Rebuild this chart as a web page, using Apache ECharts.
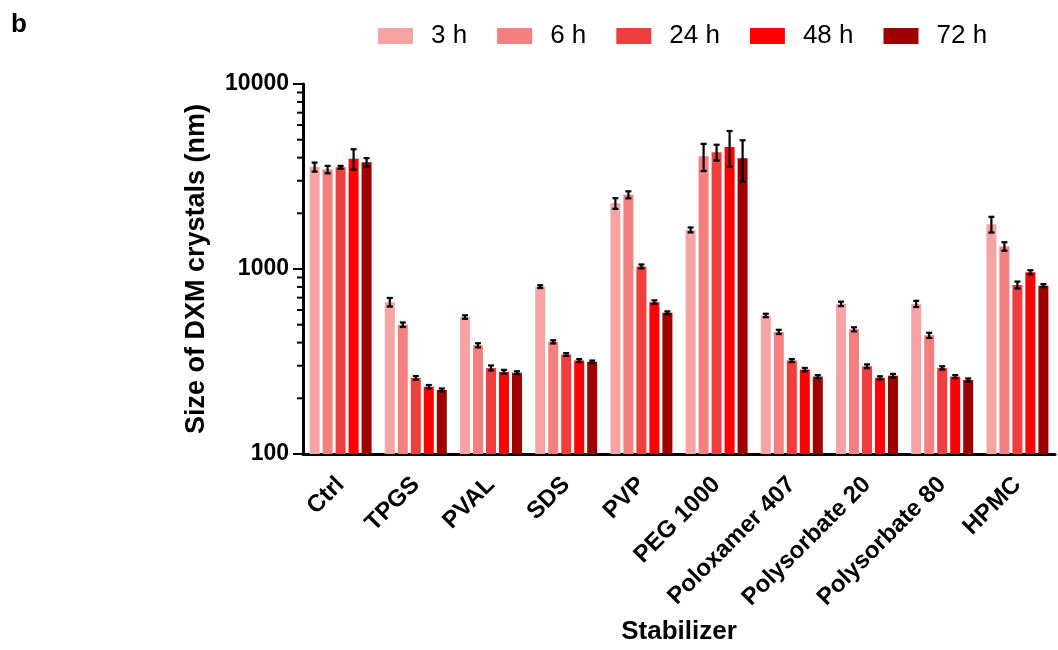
<!DOCTYPE html>
<html>
<head>
<meta charset="utf-8">
<script src="https://cdn.jsdelivr.net/npm/echarts@6/dist/echarts.min.js"></script>
<style>html,body{margin:0;padding:0;background:#fff;}#c{width:1058px;height:650px;}</style>
</head>
<body>
<div id="c"></div>
<script>
const categories = ['Ctrl','TPGS','PVAL','SDS','PVP','PEG 1000','Poloxamer 407','Polysorbate 20','Polysorbate 80','HPMC'];
const seriesNames = ['3 h','6 h','24 h','48 h','72 h'];
const colors = ['#F5A3A3','#F47F7F','#EF3E3E','#FE0000','#9E0000'];
const v3h  = [3560, 662, 550, 803, 2264, 1627, 561, 648, 648, 1745];
const v6h  = [3450, 500, 387, 404, 2520, 4066, 457, 472, 438, 1325];
const v24h = [3550, 258, 292, 345, 1033, 4277, 320, 298, 292, 820];
const v48h = [3940, 231, 278, 320, 662, 4570, 286, 258, 262, 960];
const v72h = [3775, 222, 275, 315, 580, 3965, 262, 265, 251, 813];
const e3h  = [200, 35, 12, 14, 150, 50, 12, 18, 25, 170];
const e6h  = [160, 14, 10, 8, 110, 680, 12, 12, 14, 70];
const e24h = [60, 6, 9, 6, 25, 420, 6, 7, 6, 35];
const e48h = [500, 5, 7, 6, 15, 1000, 6, 5, 5, 25];
const e72h = [200, 4, 5, 5, 10, 1000, 5, 6, 5, 15];
const yTickValues = [100, 1000, 10000];
const yTickLabels = ['100', '1000', '10000'];
const yMinorTicks = [200,300,400,500,600,700,800,900,2000,3000,4000,5000,6000,7000,8000,9000];

const values = [v3h, v6h, v24h, v48h, v72h];
const errors = [e3h, e6h, e24h, e48h, e72h];

const BAR_W = 10, BAR_GAP = 3;
const series = [];
values.forEach((vals, i) => {
  series.push({
    name: seriesNames[i], type: 'bar', data: vals,
    barWidth: BAR_W, barGap: '30%',
    itemStyle: { color: colors[i] }, z: 2
  });
});
values.forEach((vals, i) => {
  series.push({
    name: 'err' + i, type: 'custom', z: 5, silent: true,
    data: vals.map((v, k) => [k, v, errors[i][k]]),
    renderItem: function (params, api) {
      const k = api.value(0), v = api.value(1), e = api.value(2);
      const off = (i - 2) * (BAR_W + BAR_GAP);
      const top = api.coord([k, v + e]);
      const bot = api.coord([k, Math.max(v - e, 101)]);
      const x = top[0] + off;
      const cap = 3;
      const st = { stroke: '#000', lineWidth: 2.2 };
      return { type: 'group', children: [
        { type: 'line', shape: { x1: x, y1: top[1], x2: x, y2: bot[1] }, style: st },
        { type: 'line', shape: { x1: x - cap, y1: top[1], x2: x + cap, y2: top[1] }, style: st },
        { type: 'line', shape: { x1: x - cap, y1: bot[1], x2: x + cap, y2: bot[1] }, style: st }
      ]};
    }
  });
});
series.push({
  name: 'minor', type: 'custom', z: 6, silent: true, clip: false,
  data: yMinorTicks.map(v => [0, v]),
  renderItem: function (params, api) {
    const p = api.coord([0, api.value(1)]);
    const half = api.size([1, 0])[0] / 2;
    const x = p[0] - half;
    return { type: 'line', shape: { x1: x - 6, y1: p[1], x2: x, y2: p[1] }, style: { stroke: '#000', lineWidth: 2 } };
  }
});

const chart = echarts.init(document.getElementById('c'), null, { renderer: 'canvas' });
chart.setOption({
  animation: false,
  backgroundColor: '#fff',
  textStyle: { fontFamily: 'Liberation Sans, Arial, sans-serif' },
  title: { text: 'b', left: 6, top: 7, textStyle: { fontSize: 26, fontWeight: 'bold', color: '#000', fontFamily: 'Liberation Sans' } },
  legend: {
    data: seriesNames, left: 373, top: 18, icon: 'rect', itemWidth: 35, itemHeight: 16, itemGap: 30,
    textStyle: { fontSize: 26, color: '#000', fontFamily: 'Liberation Sans', padding: [0, 0, 0, 13] }
  },
  grid: { left: 303, right: 3, top: 84, bottom: 194, containLabel: false },
  xAxis: {
    type: 'category', data: categories,
    name: 'Stabilizer', nameLocation: 'middle', nameGap: 165,
    nameTextStyle: { fontSize: 26, fontWeight: 'bold', color: '#000', fontFamily: 'Liberation Sans' },
    axisLine: { lineStyle: { color: '#000', width: 3 } },
    axisTick: { alignWithLabel: true, length: 8, lineStyle: { color: '#000', width: 2 } },
    axisLabel: { interval: 0, rotate: 45, margin: 27, fontSize: 24, fontWeight: 'bold', color: '#000', fontFamily: 'Liberation Sans' }
  },
  yAxis: {
    type: 'log', logBase: 10, min: 100, max: 10000,
    name: 'Size of DXM crystals (nm)', nameLocation: 'middle', nameGap: 93,
    nameTextStyle: { fontSize: 27, fontWeight: 'bold', color: '#000', fontFamily: 'Liberation Sans' },
    axisLine: { show: true, lineStyle: { color: '#000', width: 3 } },
    axisTick: { show: true, length: 10, lineStyle: { color: '#000', width: 2 } },
    splitLine: { show: false },
    axisLabel: {
      margin: 14, fontSize: 23, fontWeight: 'bold', color: '#000', fontFamily: 'Liberation Sans',
      formatter: function (v) {
        const idx = yTickValues.findIndex(t => Math.abs(t - v) / t < 1e-6);
        return idx >= 0 ? yTickLabels[idx] : '';
      }
    }
  },
  series: series
});
</script>
</body>
</html>
